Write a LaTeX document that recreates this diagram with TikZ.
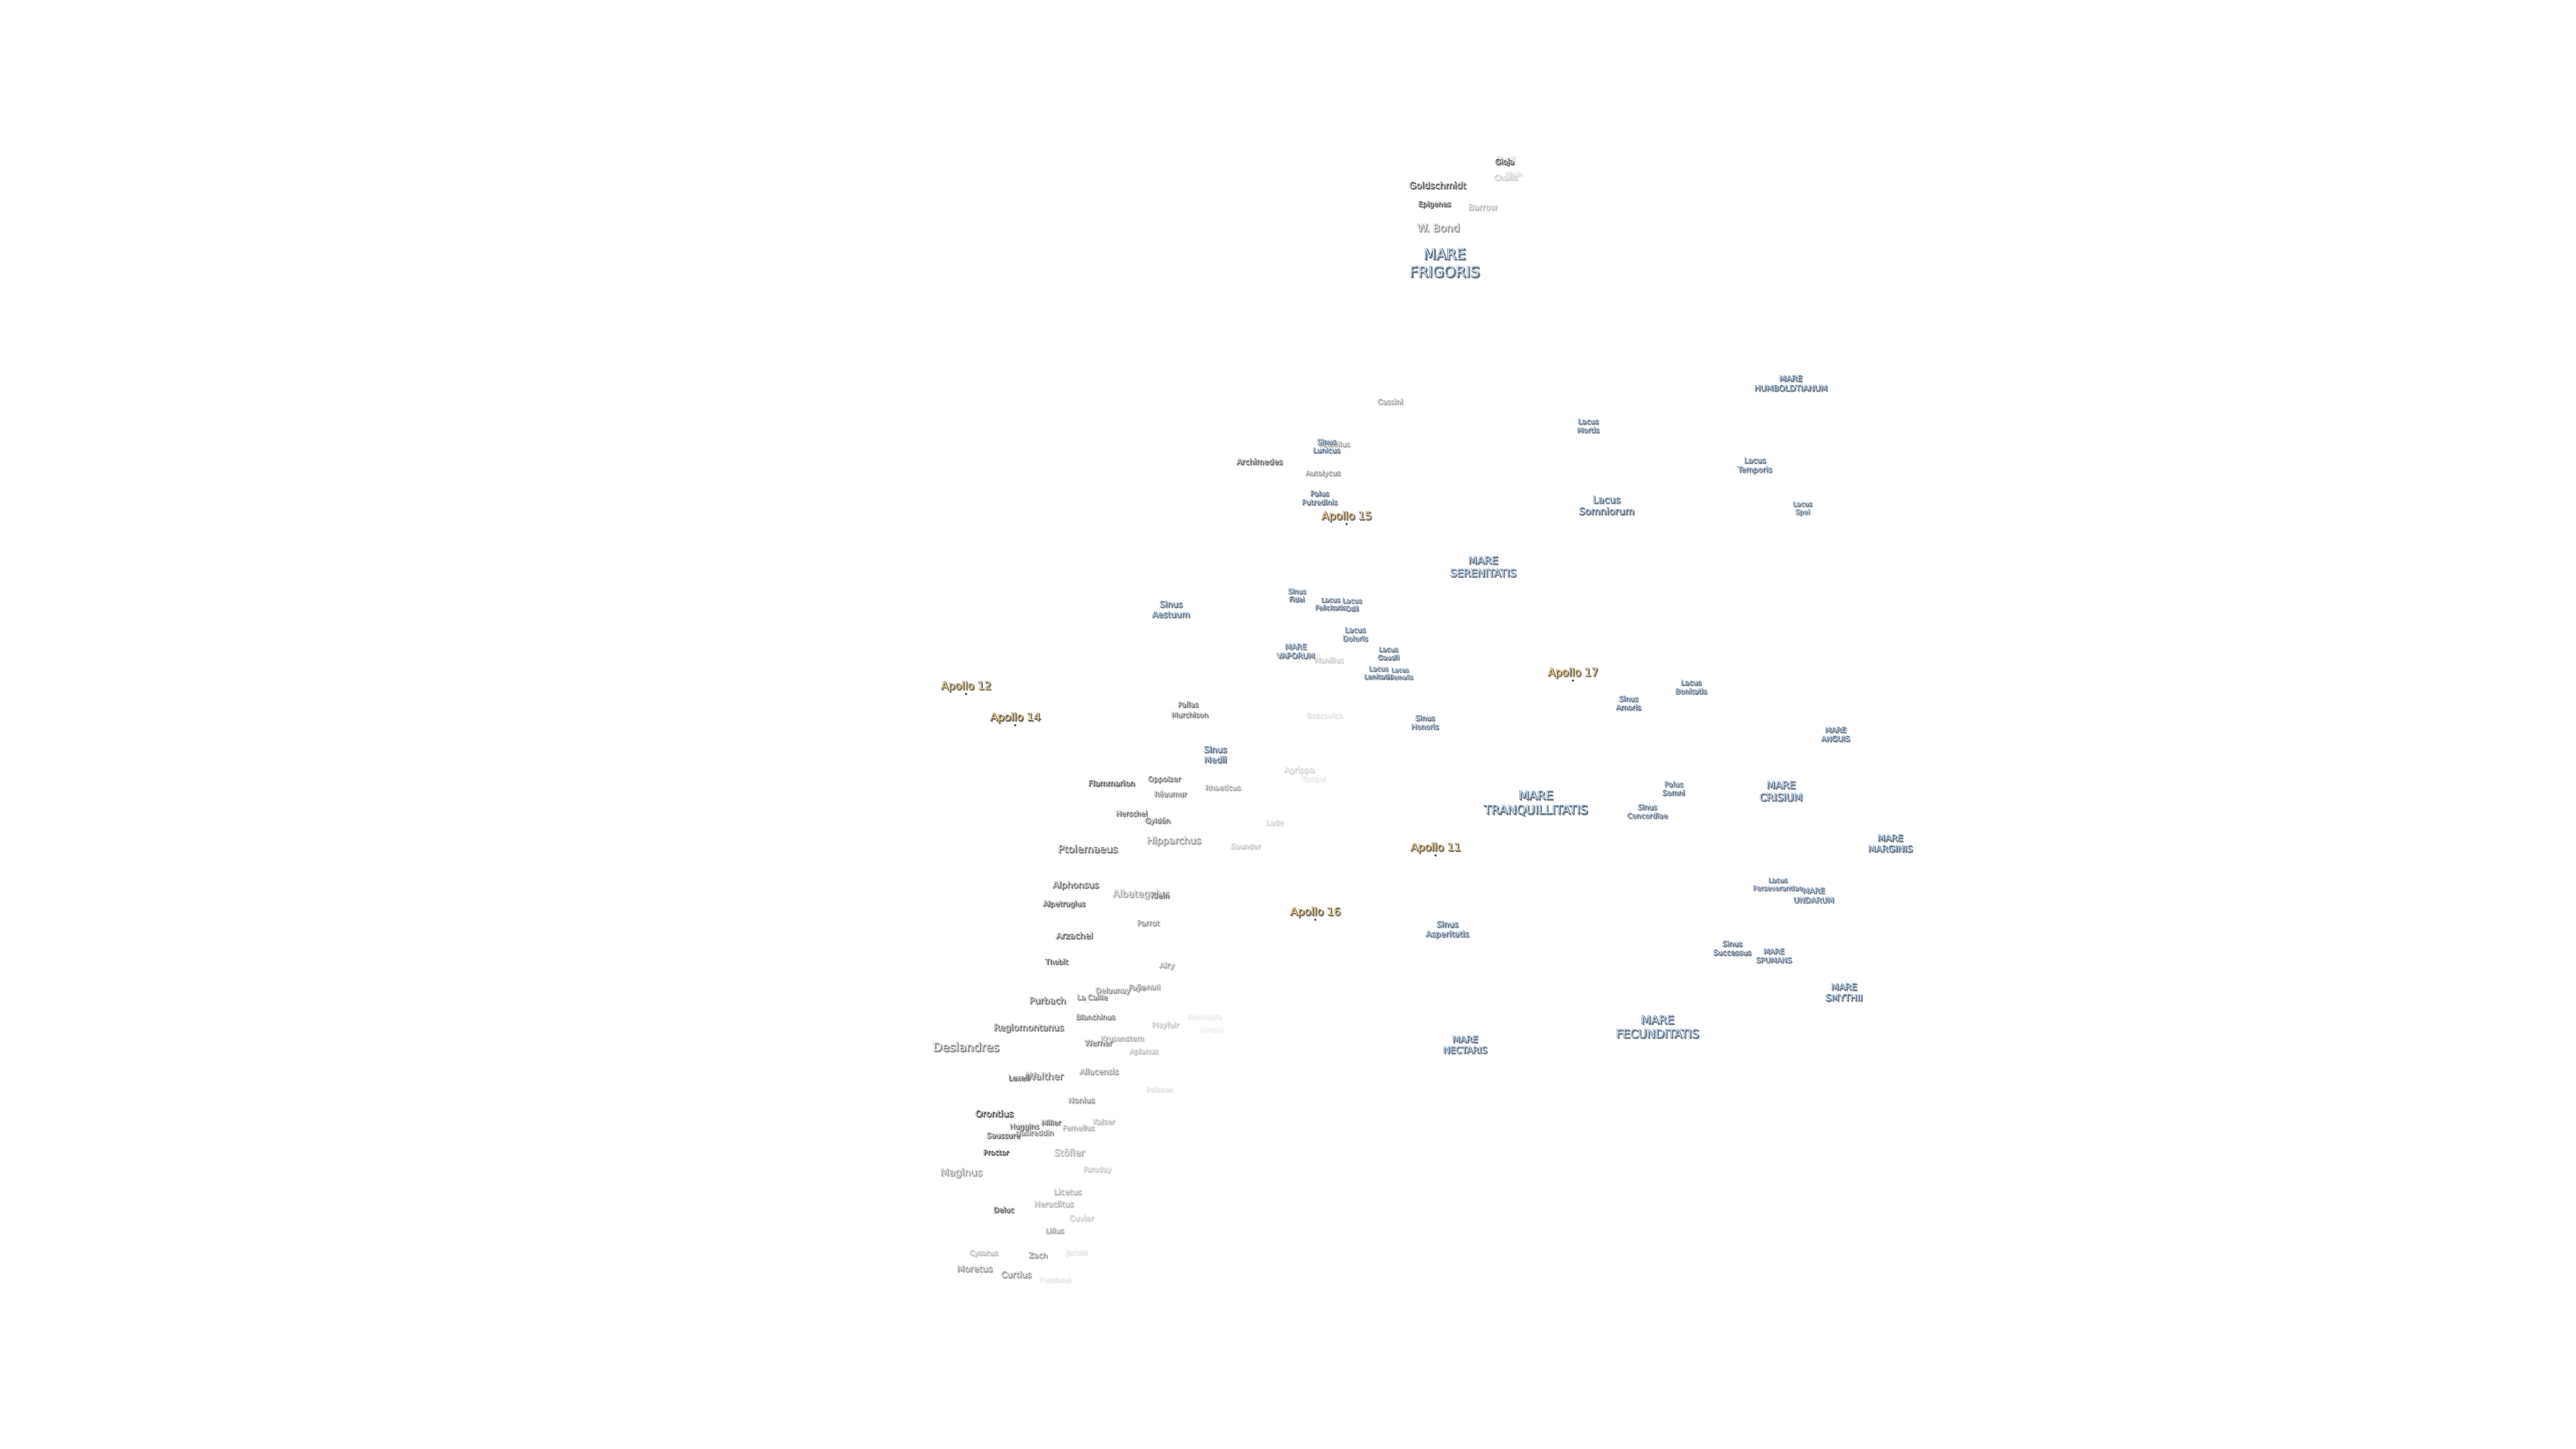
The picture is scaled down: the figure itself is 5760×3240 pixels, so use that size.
\documentclass[tikz,border=0pt]{standalone}
\usepackage{fontspec}
\setmainfont{DejaVu Sans}
\newfontfamily\oufam{DejaVu Sans}[FakeBold=4]
\newfontfamily\shfam{DejaVu Sans}[FakeBold=5]
\colorlet{fillbase}{white}\colorlet{outbase}{black}\colorlet{shbase}{black}
\colorlet{fc}{white}\colorlet{oc}{black}\colorlet{sc}{black}
\definecolor{mareF}{HTML}{CDE4FA}\definecolor{mareO}{HTML}{4E5E74}\definecolor{mareS}{HTML}{80858C}
\definecolor{apolF}{HTML}{FCE0A8}\definecolor{apolO}{HTML}{5A5040}\definecolor{apolS}{HTML}{807C74}
\definecolor{cratF}{HTML}{F4F4F4}\definecolor{cratO}{HTML}{303030}\definecolor{cratS}{HTML}{707070}
\newcommand{\setpal}[3]{\colorlet{fillbase}{#1}\colorlet{outbase}{#2}\colorlet{shbase}{#3}}
\newcommand{\fadeto}[1]{\pgfmathtruncatemacro{\fadepct}{#1+0.5*#1*(100-#1)/100}\colorlet{fc}{fillbase!\fadepct!white}\colorlet{oc}{outbase!\fadepct!white}\colorlet{sc}{shbase!\fadepct!white}}
\newcommand{\gl}[1]{\leavevmode\rlap{\kern2.4pt\lower2.4pt\hbox{\shfam\color{sc}#1}}\rlap{\oufam\color{oc}#1}{\color{fc}#1}}
\newcommand{\two}[2]{\gl{#1}\\\gl{#2}}
\tikzset{
  lbl/.style={inner sep=0pt,outer sep=0pt,align=center,yshift=-1pt},
  lsize/.style={font=\fontsize{#1}{\the\dimexpr#1pt*12/10\relax}\selectfont},
  mare/.style={lbl,execute at begin node={\setpal{mareF}{mareO}{mareS}\fadeto{100}}},
  apol/.style={lbl,execute at begin node={\setpal{apolF}{apolO}{apolS}\fadeto{100}}},
  crat/.style={lbl,execute at begin node={\setpal{cratF}{cratO}{cratS}\fadeto{#1}}},
  apdot/.style={circle,inner sep=0pt,minimum size=5pt,fill=apolO}
}
\newcommand{\mr}[5]{\node[mare,lsize=#4] (#1) at (#2,#3) {#5};}
\newcommand{\ap}[5]{\node[apol,lsize=#4] (#1) at (#2,#3) {\gl{#5}};\node[apdot] (#1dot) at (#2,#3+17) {};}
\newcommand{\crt}[6]{\node[crat=#5,lsize=#4] (#1) at (#2,#3) {\gl{#6}};}
\begin{document}
\begin{tikzpicture}[x=1pt,y=-1pt]
\path[use as bounding box,fill=white] (0,0) rectangle (5760,3240);
% craters, faint first
\crt{azophi}{2709}{2303}{16}{6}{Azophi}
\crt{abenezra}{2693}{2273}{16}{8}{Abenezra}
\crt{tempel}{2937}{1743}{15}{9}{Tempel}
\crt{boscovich}{2962}{1600}{16}{12}{Boscovich}
\crt{pentland}{2359}{2862}{16}{10}{Pentland}
\crt{jacobi}{2407}{2802}{16}{12}{Jacobi}
\crt{poisson}{2592}{2436}{15.6}{13}{Poisson}
\crt{main}{3385}{389}{16}{13}{Main}
\crt{byrd}{3367}{357}{17.8}{15}{Byrd}
\crt{agrippa}{2905}{1723}{17.5}{17}{Agrippa}
\crt{lade}{2850}{1839}{16}{18}{Lade}
\crt{cuvier}{2418}{2724}{17}{20}{Cuvier}
\crt{challis}{3367}{397}{16}{22}{Challis}
\crt{manilius}{2971}{1476}{16}{22}{Manilius}
\crt{saunder}{2785}{1892}{16}{25}{Saunder}
\crt{faraday}{2453}{2616}{15.6}{25}{Faraday}
\crt{playfair}{2605}{2293}{16}{25}{Playfair}
\crt{barrow}{3315}{463}{18.5}{30}{Barrow}
\crt{apianus}{2557}{2352}{16}{30}{Apianus}
\crt{cysatus}{2199}{2803}{16}{30}{Cysatus}
\crt{stofler}{2390.5}{2577}{20.6}{33}{Stöfler}
\crt{licetus}{2387}{2665}{17.5}{33}{Licetus}
\crt{heraclitus}{2356}{2692}{17.5}{33}{Heraclitus}
\crt{krusenstern}{2509}{2322}{16}{38}{Krusenstern}
\crt{kaiser}{2468}{2508}{16}{33}{Kaiser}
\crt{fernelius}{2411}{2522}{16}{38}{Fernelius}
\crt{aristillus}{2984}{993}{16}{38}{Aristillus}
\crt{rhaeticus}{2734}{1761}{16}{42}{Rhaeticus}
\crt{cassini}{3108}{898}{16}{42}{Cassini}
\crt{albategnius}{2551.5}{2000}{21.5}{40}{Albategnius}
\crt{hipparchus}{2624.5}{1881}{21.4}{42}{Hipparchus}
\crt{maginus}{2149}{2623}{22.5}{42}{Maginus}
\crt{moretus}{2179}{2837}{19.8}{45}{Moretus}
\crt{curtius}{2272}{2850}{19}{45}{Curtius}
\crt{zach}{2321}{2807}{16.8}{45}{Zach}
\crt{lilius}{2358}{2752}{16}{42}{Lilius}
\crt{airy}{2609}{2160}{17}{42}{Airy}
\crt{aliacensis}{2457}{2396}{17.5}{45}{Aliacensis}
\crt{wbond}{3216}{509}{23.3}{48}{W. Bond}
\crt{autolycus}{2958}{1059}{16}{48}{Autolycus}
\crt{parrot}{2567}{2064}{17}{48}{Parrot}
\crt{nonius}{2418}{2460}{17.4}{48}{Nonius}
\crt{donati}{2568}{2207}{16}{42}{Donati}
\crt{faye}{2542}{2210}{16}{48}{Faye}
\crt{nasireddin}{2313}{2533}{16}{52}{Nasireddin}
\crt{delaunay}{2488}{2216}{16.3}{52}{Delaunay}
\crt{blanchinus}{2449.5}{2274}{16}{58}{Blanchinus}
\crt{lacaille}{2442}{2230}{16}{58}{La Caille}
\crt{deslandres}{2160}{2341}{26.5}{55}{Deslandres}
\crt{reaumur}{2617}{1775}{16}{60}{Réaumur}
\crt{werner}{2456}{2332}{17.3}{62}{Werner}
\crt{walther}{2336}{2406}{21.3}{62}{Walther}
\crt{oppolzer}{2603}{1743}{16.3}{68}{Oppolzer}
\crt{gylden}{2588}{1836}{16}{68}{Gyldén}
\crt{ptolemaeus}{2432}{1898}{22.8}{65}{Ptolemaeus}
\crt{regiomontanus}{2300}{2299}{20}{70}{Regiomontanus}
\crt{purbach}{2342}{2237}{20}{72}{Purbach}
\crt{arzachel}{2402}{2092}{19}{72}{Arzachel}
\crt{alphonsus}{2405}{1980}{20}{72}{Alphonsus}
\crt{murchison}{2660}{1598}{16}{72}{Murchison}
\crt{klein}{2593}{2002}{17}{72}{Klein}
\crt{miller}{2350}{2510}{16}{72}{Miller}
\crt{pallas}{2656}{1575}{16}{78}{Pallas}
\crt{huggins}{2290}{2520}{16}{78}{Huggins}
\crt{goldschmidt}{3214}{414}{20.2}{85}{Goldschmidt}
\crt{archimedes}{2816}{1032}{17.4}{85}{Archimedes}
\crt{herschel}{2530}{1819}{16}{85}{Herschel}
\crt{thebit}{2362}{2150}{16}{85}{Thebit}
\crt{flammarion}{2485}{1751}{17.5}{90}{Flammarion}
\crt{alpetragius}{2379}{2022}{16.5}{90}{Alpetragius}
\crt{orontius}{2223}{2490}{20}{92}{Orontius}
\crt{saussure}{2243}{2539}{16.4}{92}{Saussure}
\crt{gioja}{3364}{363}{16.7}{90}{Gioja}
\crt{epigenes}{3207}{457}{16}{100}{Epigenes}
\crt{lexell}{2277.5}{2410}{16}{100}{Lexell}
\crt{proctor}{2227}{2577}{16}{100}{Proctor}
\crt{deluc}{2244}{2705}{16}{100}{Deluc}
% seas, lakes, bays, marshes
\mr{frigoris}{3230}{588}{33}{\two{MARE}{FRIGORIS}}
\mr{humboldtianum}{4004}{857}{18}{\two{MARE}{HUMBOLDTIANUM}}
\mr{serenitatis}{3316}{1267}{23.5}{\two{MARE}{SERENITATIS}}
\mr{vaporum}{2897}{1456}{17}{\two{MARE}{VAPORUM}}
\mr{tranquillitatis}{3434}{1796}{27}{\two{MARE}{TRANQUILLITATIS}}
\mr{crisium}{3982}{1769}{22.8}{\two{MARE}{CRISIUM}}
\mr{anguis}{4104}{1642}{16.5}{\two{MARE}{ANGUIS}}
\mr{marginis}{4226.5}{1886}{20}{\two{MARE}{MARGINIS}}
\mr{undarum}{4055}{2002}{17.4}{\two{MARE}{UNDARUM}}
\mr{spumans}{3966}{2137}{16.3}{\two{MARE}{SPUMANS}}
\mr{smythii}{4123}{2219}{20.3}{\two{MARE}{SMYTHII}}
\mr{fecunditatis}{3706}{2296}{26}{\two{MARE}{FECUNDITATIS}}
\mr{nectaris}{3276}{2336}{20}{\two{MARE}{NECTARIS}}
\mr{lunicus}{2966}{997}{16}{\two{Sinus}{Lunicus}}
\mr{putredinis}{2950.5}{1113}{16}{\two{Palus}{Putredinis}}
\mr{mortis}{3551}{952}{16}{\two{Lacus}{Mortis}}
\mr{temporis}{3923.5}{1041}{17}{\two{Lacus}{Temporis}}
\mr{somniorum}{3592}{1130}{21.5}{\two{Lacus}{Somniorum}}
\mr{spei}{4030}{1137}{15}{\two{Lacus}{Spei}}
\mr{fidei}{2899.5}{1331}{15}{\two{Sinus}{Fidei}}
\mr{felicitatis}{2975}{1350}{14.7}{\two{Lacus}{Felicitatis}}
\mr{odii}{3023}{1352}{15}{\two{Lacus}{Odii}}
\mr{aestuum}{2618}{1362}{19}{\two{Sinus}{Aestuum}}
\mr{doloris}{3030}{1418}{16}{\two{Lacus}{Doloris}}
\mr{gaudii}{3104}{1461}{15}{\two{Lacus}{Gaudii}}
\mr{lenitatis}{3082}{1504}{15}{\two{Lacus}{Lenitatis}}
\mr{hiemalis}{3130}{1506}{13.5}{\two{Lacus}{Hiemalis}}
\mr{honoris}{3186}{1615}{16}{\two{Sinus}{Honoris}}
\mr{medii}{2717}{1687}{19}{\two{Sinus}{Medii}}
\mr{amoris}{3641}{1572}{16}{\two{Sinus}{Amoris}}
\mr{bonitatis}{3781}{1536}{16}{\two{Lacus}{Bonitatis}}
\mr{somni}{3742}{1763}{16}{\two{Palus}{Somni}}
\mr{concordiae}{3683}{1814}{16}{\two{Sinus}{Concordiae}}
\mr{perseverantiae}{3975}{1977}{14.8}{\two{Lacus}{Perseverantiae}}
\mr{successus}{3873}{2120}{16.4}{\two{Sinus}{Successus}}
\mr{asperitatis}{3236}{2079}{18}{\two{Sinus}{Asperitatis}}
% landing sites
\ap{ap15}{3011}{1155}{24}{Apollo 15}
\ap{ap17}{3517}{1505}{24}{Apollo 17}
\ap{ap12}{2160}{1535}{24}{Apollo 12}
\ap{ap14}{2270}{1605}{24}{Apollo 14}
\ap{ap11}{3210}{1896}{24}{Apollo 11}
\ap{ap16}{2941}{2040}{24}{Apollo 16}
\end{tikzpicture}
\end{document}
